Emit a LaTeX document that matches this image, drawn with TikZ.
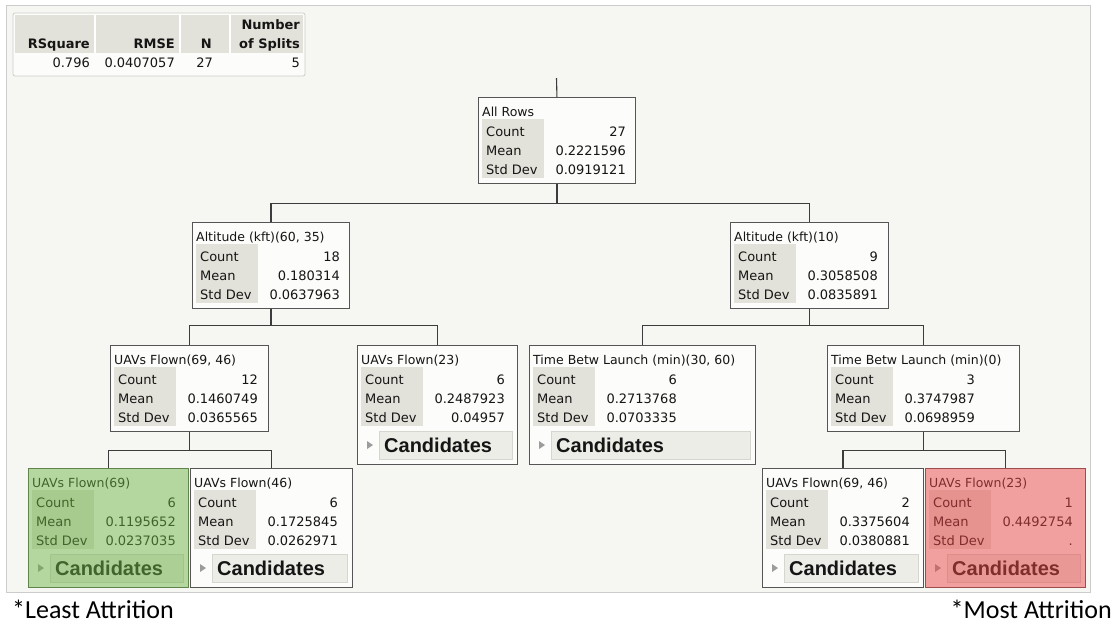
\documentclass[tikz,border=0pt]{standalone}
\usepackage{fontspec}
\setmainfont{DejaVu Sans}
\newfontfamily\btnfont{Liberation Sans}
\newfontfamily\notefont{Carlito}

\definecolor{panelbg}{HTML}{F6F6F2}
\definecolor{panelline}{HTML}{CCCCCC}
\definecolor{boxbg}{HTML}{FCFCFB}
\definecolor{boxline}{HTML}{555555}
\definecolor{colbg}{HTML}{E3E2DA}
\definecolor{btnbg}{HTML}{EDEDE8}
\definecolor{btnline}{HTML}{D6D6D0}
\definecolor{tricol}{HTML}{9C9C9C}
\definecolor{ink}{HTML}{151515}
\definecolor{wire}{HTML}{3C3C3C}
\definecolor{goodwash}{HTML}{6DB345}
\definecolor{badwash}{HTML}{E94545}

\tikzset{
  boxframe/.style={draw=boxline, fill=boxbg, line width=0.9pt, inner sep=0pt},
  stattext/.style={inner sep=0pt, font=\fontsize{13}{15}\selectfont, text=ink},
  titletext/.style={inner sep=0pt, font=\fontsize{12.5}{15}\selectfont, text=ink},
  headtext/.style={inner sep=0pt, font=\bfseries\fontsize{13}{15}\selectfont, text=ink},
  btn/.style={fill=btnbg, draw=btnline, line width=0.6pt},
  btntext/.style={inner sep=0pt, font=\btnfont\bfseries\fontsize{20}{24}\selectfont, text=ink},
  link/.style={draw=wire, line width=1.1pt},
  notetext/.style={inner sep=0pt, font=\notefont\fontsize{26}{30}\selectfont, text=black},
}

% one split box: name, left, top, width, height, title, count, mean, std dev
\newcommand{\treebox}[9]{%
  \node[boxframe, minimum width=#4pt, minimum height=#5pt, anchor=north west] (#1) at (#2,#3) {};
  \fill[colbg] ({#2+4},{#3+22}) rectangle ({#2+66},{#3+81});
  \node[titletext, anchor=base west] (#1-title) at ({#2+4},{#3+19.5}) {#6};
  \node[stattext, anchor=base west] (#1-lc) at ({#2+8},{#3+39}) {Count};
  \node[stattext, anchor=base west] (#1-lm) at ({#2+8},{#3+58}) {Mean};
  \node[stattext, anchor=base west] (#1-ls) at ({#2+8},{#3+77}) {Std Dev};
  \node[stattext, anchor=base east] (#1-vc) at ({#2+148},{#3+39}) {#7};
  \node[stattext, anchor=base east] (#1-vm) at ({#2+148},{#3+58}) {#8};
  \node[stattext, anchor=base east] (#1-vs) at ({#2+148},{#3+77}) {#9};
}

% the "Candidates" button row of a leaf: name, left, top, right
\newcommand{\candrow}[4]{%
  \draw[btn] ({#2+22},{#3+86}) rectangle ({#4-5},{#3+114});
  \fill[tricol] ({#2+10},{#3+96}) -- ({#2+16},{#3+100}) -- ({#2+10},{#3+104}) -- cycle;
  \node[btntext, anchor=base west] (#1-cand) at ({#2+27},{#3+107.5}) {Candidates};
}

\begin{document}
\begin{tikzpicture}[x=1pt,y=-1pt]
\useasboundingbox (0,0) rectangle (1120,632);
\fill[white] (0,0) rectangle (1120,632);

% report panel
\draw[draw=panelline, fill=panelbg, line width=0.8pt] (6,5) rectangle (1090,592);

% fit summary table
\draw[draw=panelline, fill=boxbg, rounded corners=2pt, line width=0.8pt] (13,13) rectangle (305,76);
\fill[colbg] (15,15) rectangle (303,53);
\draw[white, line width=1.2pt] (95,15) -- (95,53) (180,15) -- (180,53) (230,15) -- (230,53);
\node[headtext, anchor=base east] (h1) at (90,48) {RSquare};
\node[headtext, anchor=base east] (h2) at (175,48) {RMSE};
\node[headtext, anchor=base east] (h3) at (212,48) {N};
\node[headtext, anchor=base east] (h4a) at (300,29) {Number};
\node[headtext, anchor=base east] (h4b) at (300,48) {of Splits};
\node[stattext, anchor=base east] (v1) at (90,67) {0.796};
\node[stattext, anchor=base east] (v2) at (175,67) {0.0407057};
\node[stattext, anchor=base east] (v3) at (213,67) {27};
\node[stattext, anchor=base east] (v4) at (300,67) {5};

% split boxes
\treebox{root}{478}{97}{157}{86}{All Rows}{27}{0.2221596}{0.0919121}
\treebox{alta}{192}{222}{157}{86}{Altitude (kft)(60, 35)}{18}{0.180314}{0.0637963}
\treebox{altb}{730}{222}{158}{86}{Altitude (kft)(10)}{9}{0.3058508}{0.0835891}
\treebox{uava}{110}{345}{158}{86}{UAVs Flown(69, 46)}{12}{0.1460749}{0.0365565}
\treebox{uavb}{357}{345}{160}{119}{UAVs Flown(23)}{6}{0.2487923}{0.04957}
\candrow{uavb}{357}{345}{517}
\treebox{tbla}{529}{345}{226}{119}{Time Betw Launch (min)(30, 60)}{6}{0.2713768}{0.0703335}
\candrow{tbla}{529}{345}{755}
\treebox{tblb}{827}{345}{192}{86}{Time Betw Launch (min)(0)}{3}{0.3747987}{0.0698959}
\treebox{leafg}{28}{468}{160}{119}{UAVs Flown(69)}{6}{0.1195652}{0.0237035}
\candrow{leafg}{28}{468}{188}
\treebox{leafw}{190}{468}{162}{119}{UAVs Flown(46)}{6}{0.1725845}{0.0262971}
\candrow{leafw}{190}{468}{352}
\treebox{leafl}{762}{468}{161}{119}{UAVs Flown(69, 46)}{2}{0.3375604}{0.0380881}
\candrow{leafl}{762}{468}{923}
\treebox{leafr}{925}{468}{160}{119}{UAVs Flown(23)}{1}{0.4492754}{.}
\candrow{leafr}{925}{468}{1085}

% highlight washes on the extreme leaves
\fill[goodwash, opacity=0.5] (leafg.north west) rectangle (leafg.south east);
\fill[badwash, opacity=0.5] (leafr.north west) rectangle (leafr.south east);

% connectors
\coordinate (stem) at (556.5,78);
\draw[link] (stem) -- (root.north);
\draw[link] (root.south) -- ++(0,20) -| (alta.north);
\draw[link] (root.south) -- ++(0,20) -| (altb.north);
\draw[link] (alta.south) -- ++(0,17) -| (uava.north);
\draw[link] (alta.south) -- ++(0,17) -| (uavb.north);
\draw[link] (altb.south) -- ++(0,17) -| (tbla.north);
\draw[link] (altb.south) -- ++(0,17) -| (tblb.north);
\draw[link] (uava.south) -- ++(0,19) -| (leafg.north);
\draw[link] (uava.south) -- ++(0,19) -| (leafw.north);
\draw[link] (tblb.south) -- ++(0,19) -| (leafl.north);
\draw[link] (tblb.south) -- ++(0,19) -| (leafr.north);

% notes under the panel
\node[notetext, anchor=base west] (least) at (12,618) {*Least Attrition};
\node[notetext, anchor=base east] (most) at (1112,618) {*Most Attrition};
\end{tikzpicture}
\end{document}
